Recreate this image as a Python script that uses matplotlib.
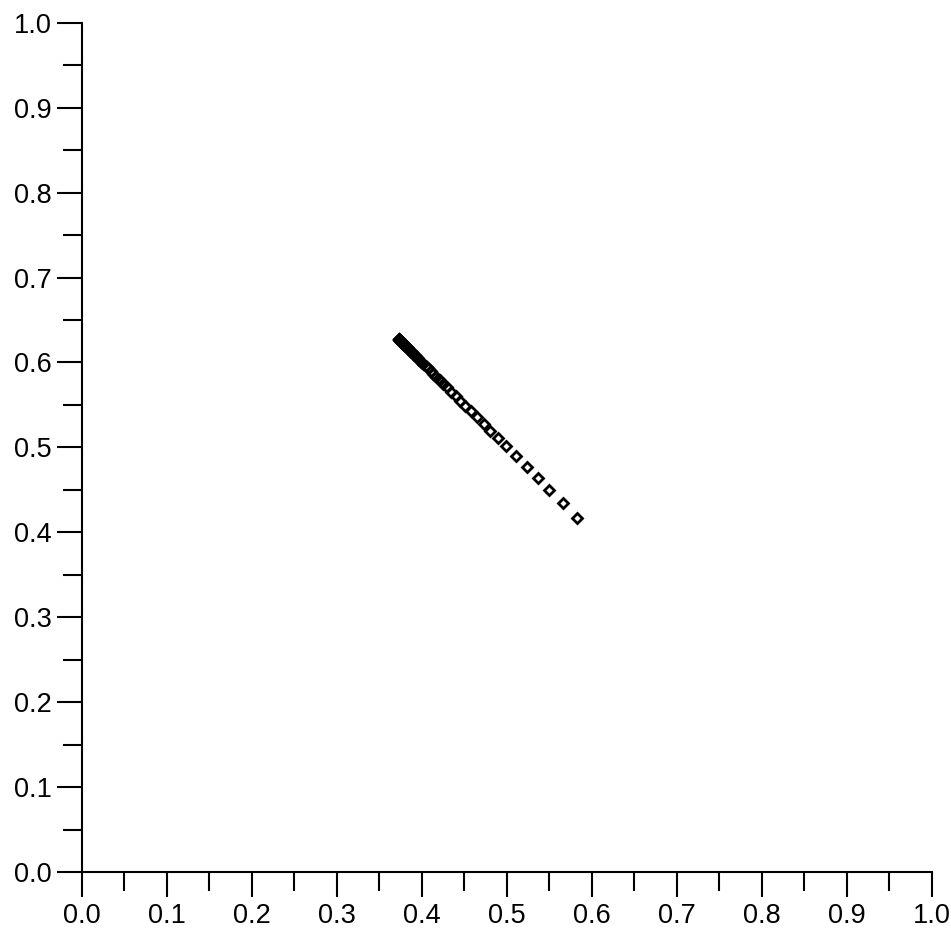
import matplotlib
matplotlib.use("Agg")
import matplotlib.pyplot as plt
from matplotlib.ticker import MultipleLocator

plt.rcParams['font.family'] = ['Liberation Sans', 'DejaVu Sans']

# points, far end first
x_vals = [0.5827, 0.5655, 0.5498, 0.5361, 0.5232, 0.5102, 0.4985, 0.4894,
          0.4806, 0.4724, 0.4647, 0.4576, 0.4512, 0.4453, 0.4396, 0.4344,
          0.4294, 0.4249, 0.4208, 0.4169, 0.4134, 0.4101, 0.4071, 0.4042,
          0.4016, 0.3992, 0.3969, 0.3948, 0.3929, 0.3912, 0.3895, 0.3880,
          0.3866, 0.3853, 0.3841, 0.3831, 0.3820, 0.3811, 0.3802, 0.3794,
          0.3787, 0.3780, 0.3774, 0.3768, 0.3764, 0.3759, 0.3754, 0.3751,
          0.3747, 0.3744, 0.3741, 0.3738, 0.3734, 0.3732, 0.3729, 0.3727,
          0.3725]
y_vals = [0.4173, 0.4345, 0.4502, 0.4639, 0.4768, 0.4898, 0.5015, 0.5106,
          0.5194, 0.5276, 0.5353, 0.5424, 0.5488, 0.5547, 0.5604, 0.5656,
          0.5706, 0.5751, 0.5792, 0.5831, 0.5866, 0.5899, 0.5929, 0.5958,
          0.5984, 0.6008, 0.6031, 0.6052, 0.6071, 0.6088, 0.6105, 0.6120,
          0.6134, 0.6147, 0.6159, 0.6169, 0.6180, 0.6189, 0.6198, 0.6206,
          0.6213, 0.6220, 0.6226, 0.6232, 0.6236, 0.6241, 0.6246, 0.6249,
          0.6253, 0.6256, 0.6259, 0.6262, 0.6266, 0.6268, 0.6271, 0.6273,
          0.6275]

tick_vals = [0.0, 0.1, 0.2, 0.3, 0.4, 0.5, 0.6, 0.7, 0.8, 0.9, 1.0]

fig = plt.figure(figsize=(9.51, 9.32), dpi=100)
ax = fig.add_axes([0.0862, 0.0644, 0.8938, 0.9112])

ax.plot(x_vals, y_vals, linestyle='none', marker='D', markersize=5.6,
        markerfacecolor='none', markeredgecolor='black', markeredgewidth=2.0,
        clip_on=False)

ax.set_xlim(0, 1)
ax.set_ylim(0, 1)
ax.set_xticks(tick_vals)
ax.set_yticks(tick_vals)
ax.set_xticklabels(['%.1f' % v for v in tick_vals])
ax.set_yticklabels(['%.1f' % v for v in tick_vals])
ax.xaxis.set_minor_locator(MultipleLocator(0.05))
ax.yaxis.set_minor_locator(MultipleLocator(0.05))

for side in ['top', 'right']:
    ax.spines[side].set_visible(False)
for side in ['left', 'bottom']:
    ax.spines[side].set_linewidth(1.5)

ax.tick_params(which='major', direction='out', length=18, width=1.5,
               labelsize=19.5, pad=4)
ax.tick_params(which='minor', direction='out', length=13.5, width=1.5)

plt.savefig('out.png', dpi=100)
